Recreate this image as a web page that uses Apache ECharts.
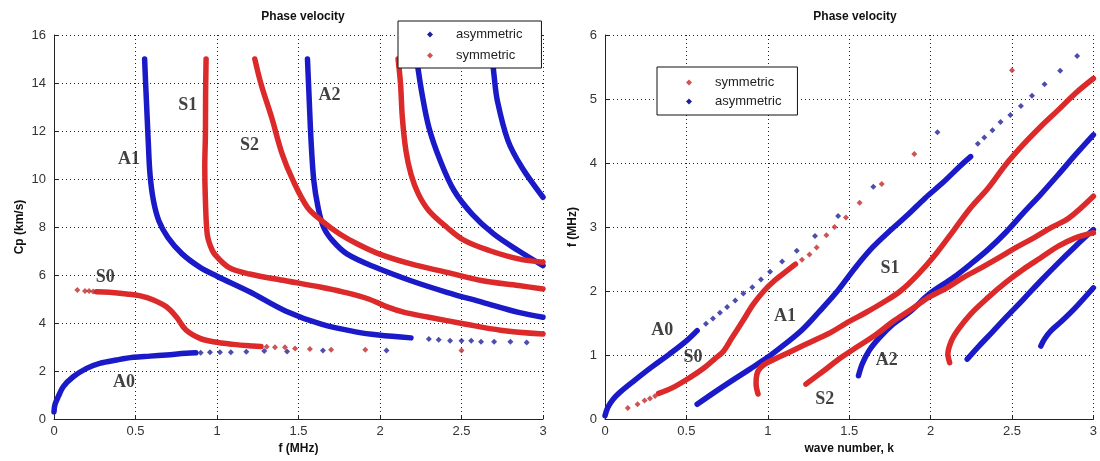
<!DOCTYPE html>
<html><head><meta charset="utf-8">
<script src="https://cdn.jsdelivr.net/npm/echarts@6/dist/echarts.min.js"></script>
<style>html,body{margin:0;padding:0;background:#fff}#c{width:1100px;height:461px}</style>
</head><body><div id="c"></div>
<script>
// ---------- Left panel: Cp (km/s) vs f (MHz) ----------
const xTicksLeft = [0, 0.5, 1, 1.5, 2, 2.5, 3];
const yTicksLeft = [0, 2, 4, 6, 8, 10, 12, 14, 16];
const L_A0 = [[0,0.3],[0.006,0.6],[0.026,0.93],[0.057,1.35],[0.118,1.76],[0.2,2.11],[0.28,2.32],[0.385,2.46],[0.487,2.57],[0.589,2.62],[0.69,2.67],[0.81,2.74],[0.87,2.76]];
const L_A0_dots = [[0.9,2.76],[0.957,2.78],[1.018,2.78],[1.085,2.78],[1.18,2.8],[1.29,2.83],[1.43,2.81],[1.65,2.85],[2.04,2.85]];
const L_S0_dots_start = [[0.143,5.375],[0.19,5.33],[0.215,5.33],[0.24,5.31]];
const L_S0 = [[0.26,5.3],[0.34,5.28],[0.446,5.21],[0.53,5.13],[0.61,4.96],[0.69,4.68],[0.75,4.26],[0.81,3.71],[0.896,3.36],[0.977,3.22],[1.1,3.11],[1.22,3.04],[1.27,3.02]];
const L_S0_dots_end = [[1.305,3.01],[1.356,2.99],[1.417,2.99],[1.479,2.94],[1.57,2.92],[1.7,2.89],[1.91,2.89],[2.5,2.85]];
const L_A1 = [[0.556,15.0],[0.562,14.0],[0.567,13.26],[0.578,11.6],[0.589,10.2],[0.61,9.1],[0.643,8.26],[0.698,7.57],[0.786,6.88],[0.896,6.32],[1.0,5.95],[1.2,5.3],[1.42,4.5],[1.64,3.95],[1.86,3.62],[1.99,3.5],[2.19,3.38]];
const L_A1_dots = [[2.3,3.33],[2.36,3.3],[2.43,3.26],[2.5,3.26],[2.56,3.26],[2.62,3.22],[2.7,3.22],[2.8,3.22],[2.9,3.19]];
const L_S1 = [[0.933,15],[0.93,13.5],[0.929,11.9],[0.925,10.5],[0.929,9.1],[0.94,7.7],[0.96,7.2],[0.984,6.88],[1.072,6.32],[1.2,6.04],[1.42,5.76],[1.64,5.49],[1.77,5.3],[1.93,5.0],[2.04,4.68],[2.15,4.44],[2.3,4.24],[2.52,3.96],[2.74,3.7],[3.0,3.54]];
const L_S2 = [[1.232,15],[1.27,13.96],[1.335,12.57],[1.4,11.04],[1.467,9.93],[1.555,8.82],[1.643,8.26],[1.753,7.71],[1.862,7.29],[1.994,6.88],[2.19,6.46],[2.41,6.11],[2.63,5.76],[2.85,5.56],[3.0,5.42]];
const L_A2 = [[1.555,15],[1.566,13.26],[1.577,11.6],[1.594,9.93],[1.62,8.82],[1.654,7.99],[1.709,7.43],[1.797,6.88],[1.972,6.32],[2.19,5.76],[2.41,5.28],[2.63,4.86],[2.85,4.44],[3.0,4.24]];
const L_S3 = [[2.111,15],[2.126,13.96],[2.137,12.57],[2.159,11.18],[2.19,10.2],[2.235,9.38],[2.3,8.68],[2.41,7.99],[2.52,7.43],[2.675,7.01],[2.85,6.67],[3.0,6.53]];
const L_A3 = [[2.225,15],[2.258,13.54],[2.3,12.15],[2.37,10.76],[2.455,9.51],[2.565,8.54],[2.697,7.71],[2.85,7.01],[3.0,6.39]];
const L_A4 = [[2.69,15],[2.7,14.3],[2.72,13.26],[2.785,11.6],[2.87,10.49],[3.0,9.24]];
const L_labels = [[0.314,5.9,'S0'],[0.43,1.53,'A0'],[0.46,10.83,'A1'],[0.82,13.06,'S1'],[1.2,11.4,'S2'],[1.69,13.47,'A2']];

// ---------- Right panel: f (MHz) vs wave number ----------
const xTicksRight = [0, 0.5, 1, 1.5, 2, 2.5, 3];
const yTicksRight = [0, 1, 2, 3, 4, 5, 6];
const R_A0 = [[0,0.05],[0.017,0.18],[0.05,0.31],[0.093,0.42],[0.18,0.6],[0.286,0.81],[0.394,1.01],[0.5,1.22],[0.566,1.38]];
const R_A0_dots = [[0.62,1.49],[0.663,1.57],[0.706,1.66],[0.75,1.75],[0.8,1.85],[0.85,1.96],[0.905,2.06],[0.958,2.18],[1.014,2.3],[1.088,2.46],[1.178,2.63],[1.29,2.86],[1.432,3.17],[1.648,3.63],[2.042,4.48]];
const R_S0_dots_start = [[0.14,0.17],[0.2,0.23],[0.243,0.29],[0.276,0.32],[0.308,0.36]];
const R_S0 = [[0.33,0.4],[0.416,0.49],[0.523,0.65],[0.61,0.8],[0.674,0.94],[0.728,1.06],[0.78,1.27],[0.846,1.53],[0.91,1.79],[0.976,2.0],[1.04,2.16],[1.105,2.29],[1.17,2.42]];
const R_S0_dots_end = [[1.21,2.49],[1.256,2.57],[1.3,2.68],[1.36,2.87],[1.41,3.0],[1.48,3.15],[1.564,3.38],[1.7,3.67],[1.9,4.14],[2.5,5.45]];
const R_A1 = [[0.566,0.23],[0.674,0.42],[0.78,0.6],[0.89,0.78],[0.997,0.96],[1.105,1.17],[1.213,1.4],[1.32,1.69],[1.428,2.0],[1.536,2.36],[1.643,2.68],[1.75,2.94],[1.86,3.19],[1.966,3.45],[2.074,3.69],[2.18,3.95],[2.246,4.1]];
const R_A1_dots = [[2.29,4.3],[2.33,4.4],[2.38,4.51],[2.43,4.64],[2.49,4.75],[2.555,4.89],[2.623,5.05],[2.7,5.23],[2.796,5.44],[2.9,5.67]];
const R_S1 = [[0.94,0.39],[0.928,0.55],[0.933,0.7],[0.954,0.8],[0.997,0.88],[1.062,0.96],[1.17,1.09],[1.277,1.22],[1.385,1.35],[1.49,1.51],[1.6,1.66],[1.708,1.82],[1.815,2.0],[1.923,2.26],[2.03,2.57],[2.14,2.94],[2.246,3.3],[2.354,3.61],[2.46,3.97],[2.57,4.29],[2.677,4.57],[2.785,4.83],[2.89,5.09],[3.0,5.32]];
const R_S2 = [[1.234,0.545],[1.342,0.75],[1.45,0.96],[1.557,1.14],[1.665,1.32],[1.773,1.53],[1.88,1.71],[1.988,1.9],[2.1,2.05],[2.2,2.21],[2.31,2.36],[2.42,2.52],[2.526,2.68],[2.634,2.83],[2.74,2.99],[2.85,3.14],[3.0,3.48]];
const R_A2 = [[1.557,0.675],[1.58,0.86],[1.62,1.06],[1.686,1.27],[1.77,1.48],[1.88,1.69],[1.99,1.95],[2.14,2.21],[2.246,2.42],[2.354,2.65],[2.46,2.91],[2.57,3.22],[2.677,3.51],[2.785,3.82],[2.89,4.13],[3.0,4.44]];
const R_S3 = [[2.117,0.88],[2.106,1.01],[2.128,1.22],[2.17,1.4],[2.246,1.64],[2.354,1.9],[2.46,2.13],[2.57,2.34],[2.677,2.52],[2.785,2.7],[2.89,2.83],[3.0,2.91]];
const R_A3 = [[2.225,0.935],[2.29,1.12],[2.376,1.35],[2.46,1.58],[2.57,1.87],[2.677,2.16],[2.785,2.44],[2.89,2.7],[3.0,2.96]];
const R_A4 = [[2.677,1.14],[2.7,1.25],[2.74,1.38],[2.806,1.53],[2.89,1.74],[3.0,2.05]];
const R_labels = [[0.351,1.38,'A0'],[0.54,0.97,'S0'],[1.105,1.61,'A1'],[1.75,2.36,'S1'],[1.73,0.91,'A2'],[1.35,0.31,'S2']];

const BLUE = '#1a1ac8', RED = '#dc2a2a';
const BLUE_DOT = '#20209a', RED_DOT = '#c02a2a';
const FONT = 'Liberation Sans, Arial, sans-serif';

function lineS(name, data, color, gi) {
  return { type: 'line', name, data, xAxisIndex: gi, yAxisIndex: gi, smooth: 0.35,
    showSymbol: false, symbol: 'none', color, silent: true,
    lineStyle: { color, width: 5.5, cap: 'round', join: 'round' }, z: 3 };
}
function dotS(name, data, color, gi) {
  return { type: 'scatter', name, data, xAxisIndex: gi, yAxisIndex: gi, symbol: 'diamond',
    symbolSize: 6, itemStyle: { color }, silent: true, z: 3 };
}
function labelS(data, gi) {
  return { type: 'scatter', name: 'modes', data, xAxisIndex: gi, yAxisIndex: gi,
    symbolSize: 0, silent: true, z: 5,
    label: { show: true, position: 'inside', formatter: p => p.data[2],
      fontFamily: 'Liberation Serif, Times New Roman, serif', fontWeight: 'bold', fontSize: 18, color: '#111' } };
}
function xAx(gi, name, ticks) {
  return { type: 'value', gridIndex: gi, min: ticks[0], max: ticks[ticks.length-1], interval: ticks[1]-ticks[0],
    name, nameLocation: 'middle', nameGap: 24,
    nameTextStyle: { fontFamily: FONT, fontWeight: 'bold', fontSize: 12, color: '#111' },
    axisLine: { show: true, lineStyle: { color: '#222', width: 1 } },
    axisTick: { show: true, inside: true, length: 4, lineStyle: { color: '#222' } },
    axisLabel: { fontFamily: FONT, fontSize: 13, color: '#333', margin: 6 },
    splitLine: { show: true, lineStyle: { color: '#222', type: [1, 3], width: 1 } } };
}
function yAx(gi, name, ticks, gap) {
  return { type: 'value', gridIndex: gi, min: ticks[0], max: ticks[ticks.length-1], interval: ticks[1]-ticks[0],
    name, nameLocation: 'middle', nameGap: gap,
    nameTextStyle: { fontFamily: FONT, fontWeight: 'bold', fontSize: 12, color: '#111' },
    axisLine: { show: true, lineStyle: { color: '#222', width: 1 } },
    axisTick: { show: true, inside: true, length: 4, lineStyle: { color: '#222' } },
    axisLabel: { fontFamily: FONT, fontSize: 13, color: '#333', margin: 8 },
    splitLine: { show: true, lineStyle: { color: '#222', type: [1, 3], width: 1 } } };
}
function legendC(left, top, names, gap, pad) {
  return { orient: 'vertical', left, top, icon: 'diamond', itemWidth: 6, itemHeight: 6, itemGap: gap,
    backgroundColor: '#fff', borderColor: '#111', borderWidth: 1, borderRadius: 0,
    padding: pad, selectedMode: false,
    data: names.map(n => ({ name: n, itemStyle: { color: n === 'asymmetric' ? BLUE_DOT : RED_DOT } })),
    textStyle: { fontFamily: FONT, fontSize: 13, color: '#222', padding: [0, 0, 0, 18] } };
}

const series = [
  lineS('asymmetric', L_A0, BLUE, 0), dotS('asymmetric', L_A0_dots, BLUE_DOT, 0),
  lineS('asymmetric', L_A1, BLUE, 0), dotS('asymmetric', L_A1_dots, BLUE_DOT, 0),
  lineS('asymmetric', L_A2, BLUE, 0), lineS('asymmetric', L_A3, BLUE, 0), lineS('asymmetric', L_A4, BLUE, 0),
  dotS('symmetric', L_S0_dots_start, RED_DOT, 0), lineS('symmetric', L_S0, RED, 0), dotS('symmetric', L_S0_dots_end, RED_DOT, 0),
  lineS('symmetric', L_S1, RED, 0), lineS('symmetric', L_S2, RED, 0), lineS('symmetric', L_S3, RED, 0),
  labelS(L_labels, 0),
  lineS('asymmetric', R_A0, BLUE, 1), dotS('asymmetric', R_A0_dots, BLUE_DOT, 1),
  lineS('asymmetric', R_A1, BLUE, 1), dotS('asymmetric', R_A1_dots, BLUE_DOT, 1),
  lineS('asymmetric', R_A2, BLUE, 1), lineS('asymmetric', R_A3, BLUE, 1), lineS('asymmetric', R_A4, BLUE, 1),
  dotS('symmetric', R_S0_dots_start, RED_DOT, 1), lineS('symmetric', R_S0, RED, 1), dotS('symmetric', R_S0_dots_end, RED_DOT, 1),
  lineS('symmetric', R_S1, RED, 1), lineS('symmetric', R_S2, RED, 1), lineS('symmetric', R_S3, RED, 1),
  labelS(R_labels, 1)
];

const chart = echarts.init(document.getElementById('c'), null, { renderer: 'canvas' });
chart.setOption({
  animation: false,
  backgroundColor: '#fff',
  title: [
    { text: 'Phase velocity', left: 298, top: 6, textAlign: 'center',
      textStyle: { fontFamily: FONT, fontWeight: 'bold', fontSize: 12, color: '#111' } },
    { text: 'Phase velocity', left: 850, top: 6, textAlign: 'center',
      textStyle: { fontFamily: FONT, fontWeight: 'bold', fontSize: 12, color: '#111' } }
  ],
  grid: [
    { left: 54, top: 35, width: 489, height: 384 },
    { left: 605, top: 35, width: 490, height: 384 }
  ],
  xAxis: [ xAx(0, 'f (MHz)', xTicksLeft), xAx(1, 'wave number, k', xTicksRight) ],
  yAxis: [ yAx(0, 'Cp (km/s)', yTicksLeft, 28), yAx(1, 'f (MHz)', yTicksRight, 26) ],
  legend: [
    legendC(398, 21, ['asymmetric', 'symmetric'], 8, [7, 19, 6, 29]),
    legendC(657, 67, ['symmetric', 'asymmetric'], 6, [9, 16, 7, 29])
  ],
  series
});
</script></body></html>
